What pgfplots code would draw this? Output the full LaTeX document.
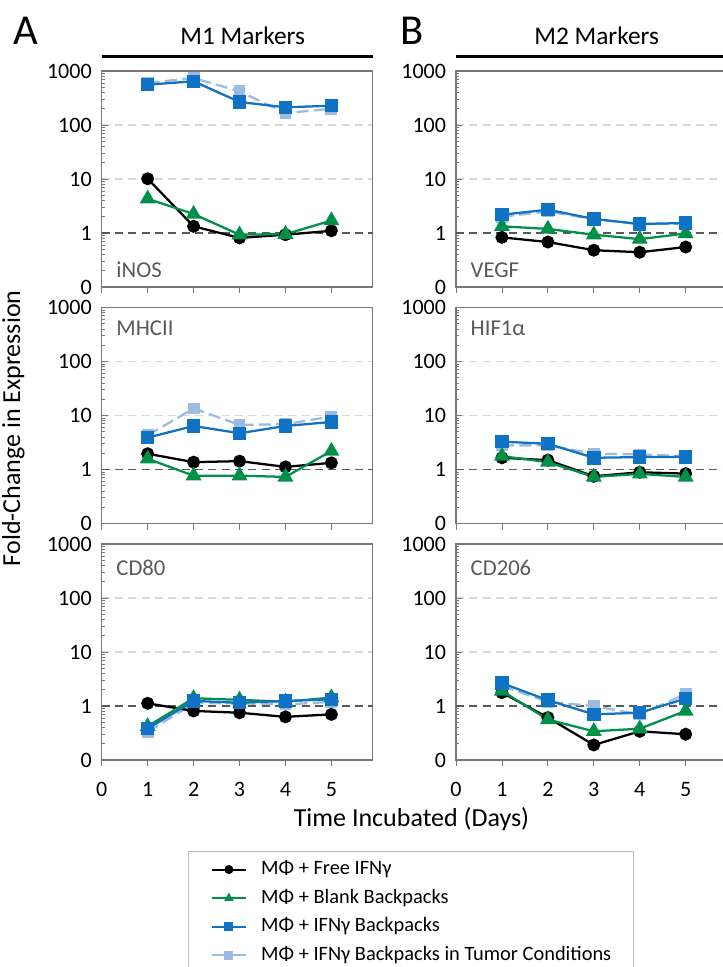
\documentclass[border=0pt]{standalone}
\usepackage{fontspec}
\setmainfont{Carlito}
\usepackage{pgfplots}
\pgfplotsset{compat=1.18}
\definecolor{cgreen}{RGB}{0,144,72}
\definecolor{cblue}{RGB}{16,114,196}
\definecolor{clight}{RGB}{155,187,225}
\definecolor{cgrid}{RGB}{217,217,217}
\definecolor{cref}{RGB}{89,89,89}
\definecolor{cframe}{RGB}{120,120,120}
\definecolor{clabel}{RGB}{89,89,89}
\definecolor{clegbox}{RGB}{191,191,191}
\tikzset{
  sblack/.style={black, line width=1.7pt, mark=*, mark size=4pt, mark options={solid}},
  sgreen/.style={cgreen, line width=1.7pt, mark=triangle*, mark size=5.2pt, mark options={solid}},
  sblue/.style={cblue, line width=1.7pt, mark=square*, mark size=4.2pt, mark options={solid}},
  slight/.style={clight, line width=1.7pt, dash pattern=on 9pt off 4pt, mark=square*, mark size=3.6pt, mark options={solid}},
  sref/.style={cref, line width=1pt, dash pattern=on 6pt off 4pt},
  panellabel/.style={anchor=base west, text=clabel, font=\fontsize{17}{20}\selectfont},
}
\pgfplotsset{every axis/.append style={
    scale only axis, width=203.25pt, height=162pt, anchor=south west,
    ymin=0.1, ymax=1000, xmin=0, xmax=5.9,
    xtick={0,1,2,3,4,5}, xticklabels={},
    ytick={0.1,1,10,100,1000}, yticklabels={0,1,10,100,1000},
    minor ytick={0.2,0.3,0.4,0.5,0.6,0.7,0.8,0.9,2,3,4,5,6,7,8,9,20,30,40,50,60,70,80,90,200,300,400,500,600,700,800,900},
    tick pos=left, xtick align=outside, ytick align=inside,
    major tick length=4.5pt, minor tick length=2.5pt,
    every tick/.style={cframe, line width=0.6pt},
    axis line style={cframe, line width=0.8pt},
    ymajorgrids, major grid style={cgrid, line width=0.8pt, dash pattern=on 6pt off 4pt},
    tick label style={font=\fontsize{16.5}{19}\selectfont},
    yticklabel style={xshift=-4pt},
    /pgf/number format/assume math mode=true,
    clip=false,
  }}
\begin{document}
\begin{tikzpicture}
% ---------- Row 1 A: iNOS
\begin{semilogyaxis}[at={(76.3pt,510pt)}]
\addplot[forget plot, sref] coordinates {(0,1) (5.9,1)};
\addplot[slight] coordinates {(1,600) (2,742) (3,420) (4,166) (5,200)};
\addplot[sblack] coordinates {(1,10.1) (2,1.33) (3,0.81) (4,0.93) (5,1.1)};
\addplot[sgreen] coordinates {(1,4.3) (2,2.24) (3,0.93) (4,0.95) (5,1.7)};
\addplot[sblue] coordinates {(1,558) (2,645) (3,267) (4,212) (5,228)};
\node[panellabel] at (rel axis cs:0.037,0.042) {iNOS};
\end{semilogyaxis}
% ---------- Row 1 B: VEGF
\begin{semilogyaxis}[at={(342pt,510pt)}]
\addplot[forget plot, sref] coordinates {(0,1) (5.9,1)};
\addplot[slight] coordinates {(1,2.0) (2,2.5) (3,1.8) (4,1.45) (5,1.5)};
\addplot[sblack] coordinates {(1,0.83) (2,0.68) (3,0.48) (4,0.44) (5,0.55)};
\addplot[sgreen] coordinates {(1,1.33) (2,1.19) (3,0.93) (4,0.77) (5,0.98)};
\addplot[sblue] coordinates {(1,2.18) (2,2.7) (3,1.82) (4,1.47) (5,1.53)};
\node[panellabel] at (rel axis cs:0.037,0.042) {VEGF};
\end{semilogyaxis}
% ---------- Row 2 A: MHCII
\begin{semilogyaxis}[at={(76.3pt,332.6pt)}]
\addplot[forget plot, sref] coordinates {(0,1) (5.9,1)};
\addplot[slight] coordinates {(1,4.3) (2,13.5) (3,6.7) (4,6.9) (5,9.6)};
\addplot[sblack] coordinates {(1,1.96) (2,1.37) (3,1.43) (4,1.12) (5,1.33)};
\addplot[sgreen] coordinates {(1,1.58) (2,0.77) (3,0.77) (4,0.73) (5,2.2)};
\addplot[sblue] coordinates {(1,3.9) (2,6.4) (3,4.7) (4,6.4) (5,7.6)};
\node[panellabel] at (rel axis cs:0.037,0.87) {MHCII};
\end{semilogyaxis}
% ---------- Row 2 B: HIF1a
\begin{semilogyaxis}[at={(342pt,332.6pt)}]
\addplot[forget plot, sref] coordinates {(0,1) (5.9,1)};
\addplot[slight] coordinates {(1,2.8) (2,2.8) (3,1.96) (4,1.9) (5,1.77)};
\addplot[sblack] coordinates {(1,1.65) (2,1.49) (3,0.75) (4,0.89) (5,0.84)};
\addplot[sgreen] coordinates {(1,1.77) (2,1.37) (3,0.73) (4,0.83) (5,0.73)};
\addplot[sblue] coordinates {(1,3.28) (2,3.0) (3,1.65) (4,1.7) (5,1.72)};
\node[panellabel] at (rel axis cs:0.037,0.87) {HIF1α};
\end{semilogyaxis}
% ---------- Row 3 A: CD80
\begin{semilogyaxis}[at={(76.3pt,155.25pt)},
  xticklabels={0,1,2,3,4,5},
  xticklabel style={yshift=-9pt},
  legend style={at={(0.3185,-0.4213)}, anchor=north west, draw=clegbox, line width=0.8pt,
    font=\fontsize{15.3}{18}\selectfont, inner xsep=17pt, inner ysep=5.5pt,
    nodes={inner sep=0pt, text height=12pt, text depth=4pt},
    row sep=5.4pt, column sep=11pt, cells={anchor=west}},
  legend cell align=left,
  legend image code/.code={\draw[mark repeat=2, mark phase=2, #1, mark size=2.6pt, line width=1.5pt] plot coordinates {(0pt,0pt) (12.5pt,0pt) (25pt,0pt)};},
]
\addplot[forget plot, sref] coordinates {(0,1) (5.9,1)};
\addplot[slight, forget plot] coordinates {(1,0.33) (2,1.12) (3,1.12) (4,1.07) (5,1.19)};
\addplot[sblack, forget plot] coordinates {(1,1.12) (2,0.81) (3,0.75) (4,0.63) (5,0.7)};
\addplot[sgreen, forget plot] coordinates {(1,0.42) (2,1.39) (3,1.3) (4,1.2) (5,1.43)};
\addplot[sblue, forget plot] coordinates {(1,0.38) (2,1.24) (3,1.15) (4,1.24) (5,1.33)};
\addlegendimage{black, mark=*}
\addlegendentry{MΦ + Free IFNγ}
\addlegendimage{cgreen, mark=triangle*}
\addlegendentry{MΦ + Blank Backpacks}
\addlegendimage{cblue, mark=square*}
\addlegendentry{MΦ + IFNγ Backpacks}
\addlegendimage{clight, mark=square*}
\addlegendentry{MΦ + IFNγ Backpacks in Tumor Conditions}
\node[panellabel] at (rel axis cs:0.037,0.856) {CD80};
\end{semilogyaxis}
% ---------- Row 3 B: CD206
\begin{semilogyaxis}[at={(342pt,155.25pt)},
  xticklabels={0,1,2,3,4,5},
  xticklabel style={yshift=-9pt}]
\addplot[forget plot, sref] coordinates {(0,1) (5.9,1)};
\addplot[slight] coordinates {(1,2.36) (2,1.19) (3,1.0) (4,0.7) (5,1.65)};
\addplot[sblack] coordinates {(1,1.77) (2,0.61) (3,0.19) (4,0.34) (5,0.30)};
\addplot[sgreen] coordinates {(1,1.9) (2,0.56) (3,0.34) (4,0.38) (5,0.81)};
\addplot[sblue] coordinates {(1,2.65) (2,1.28) (3,0.7) (4,0.75) (5,1.37)};
\node[panellabel] at (rel axis cs:0.037,0.856) {CD206};
\end{semilogyaxis}
% ---------- titles and labels
\node[font=\fontsize{32}{38}\selectfont] at (19.5pt,702pt) {A};
\node[font=\fontsize{32}{38}\selectfont] at (309pt,702pt) {B};
\node[font=\fontsize{19}{23}\selectfont] at (182pt,698.6pt) {M1 Markers};
\node[font=\fontsize{19}{23}\selectfont] at (447.5pt,698.6pt) {M2 Markers};
\draw[black, line width=2.25pt] (76.5pt,682.7pt) -- (279.75pt,682.7pt);
\draw[black, line width=2.25pt] (342pt,682.7pt) -- (545pt,682.7pt);
\node[rotate=90, anchor=base, font=\fontsize{19.5}{23}\selectfont] at (15pt,404pt) {Fold-Change in Expression};
\node[anchor=base, font=\fontsize{19.5}{23}\selectfont] at (308.6pt,105pt) {Time Incubated (Days)};
\pgfresetboundingbox
\useasboundingbox (0pt,0pt) rectangle (541.5pt,725.25pt);
\end{tikzpicture}
\end{document}
